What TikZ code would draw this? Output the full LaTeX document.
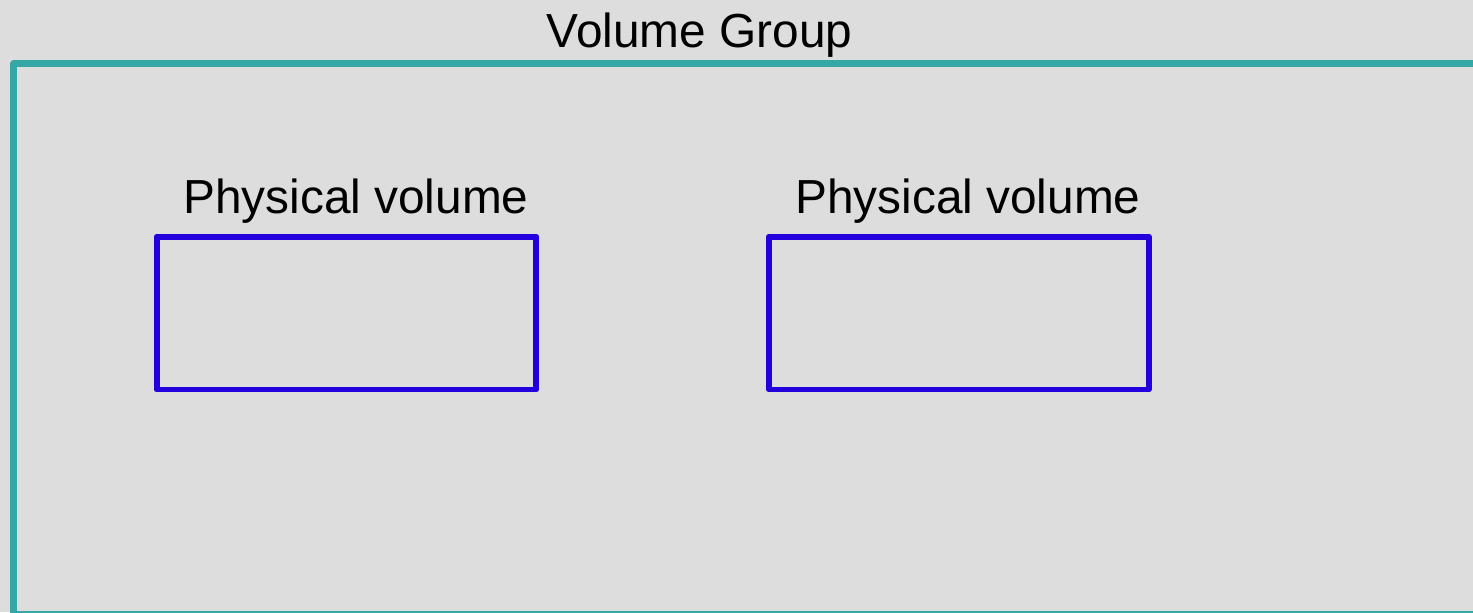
\documentclass[tikz,border=0pt]{standalone}
\usepackage{fontspec}
\setmainfont{Liberation Sans}

\definecolor{vgteal}{RGB}{53,168,166}
\definecolor{pvblue}{RGB}{34,0,221}
\definecolor{paper}{RGB}{221,221,221}

\begin{document}
\begin{tikzpicture}[
		x=0.02cm, y=-0.02cm,
		every node/.style={font=\fontsize{27.2}{32}\selectfont, inner sep=0pt},
		group/.style={draw=vgteal, line width=4pt, line join=round, minimum width=29.33cm, minimum height=11.02cm},
		volume/.style={draw=pvblue, line width=3.4pt, line join=round, minimum width=7.6cm, minimum height=3.06cm},
		caption/.style={anchor=base}
		]
		
		% Background
		\fill[paper] (0,0) rectangle (1473,612);
		\useasboundingbox (0,0) rectangle (1473,612);
		\clip (0,0) rectangle (1473,612);
		
		% -------- Volume group frame --------
		\node[group] (vg) at (746.75,339) {};
		\node[caption] (vglabel) at (699.5,47) {Volume Group};
		
		% -------- Physical volumes --------
		\node[volume] (pv1) at (346.5,313) {};
		\node[volume] (pv2) at (958.75,313) {};
		
		% Volume labels
		\node[caption] (pv1label) at (356,213) {Physical volume};
		\node[caption] (pv2label) at (968,213) {Physical volume};
		
	\end{tikzpicture}
\end{document}
